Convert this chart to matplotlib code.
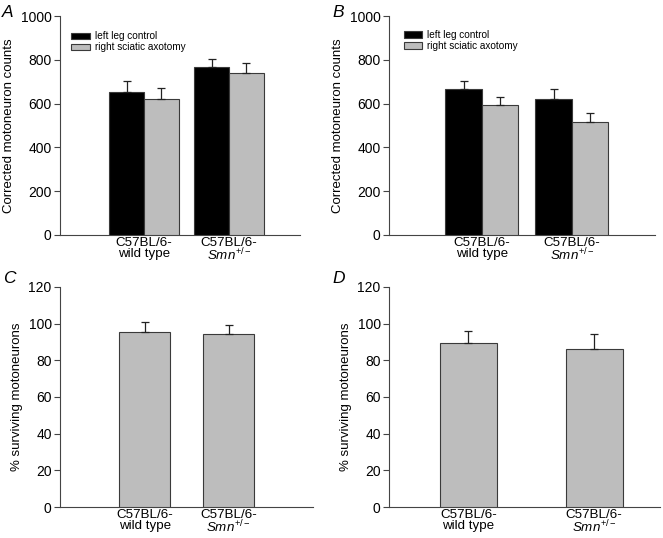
import numpy as np
import matplotlib.pyplot as plt

plt.rcParams['font.family'] = ['Liberation Sans', 'DejaVu Sans']
plt.rcParams['mathtext.fontset'] = 'custom'
plt.rcParams['mathtext.rm'] = 'Liberation Sans'
plt.rcParams['mathtext.it'] = 'Liberation Sans:italic'

# data
groups = ['C57BL/6-\nwild type', 'C57BL/6-\n$Smn^{+/-}$']
series = ['left leg control', 'right sciatic axotomy']

a_ctrl = [655, 765]
a_ctrl_err = [48, 40]
a_axo = [621, 742]
a_axo_err = [49, 43]

b_ctrl = [665, 620]
b_ctrl_err = [40, 48]
b_axo = [592, 517]
b_axo_err = [40, 39]

c_surv = [95.2, 94.5]
c_surv_err = [5.8, 4.5]
d_surv = [89.3, 86.0]
d_surv_err = [6.7, 8.3]

black = '#000000'
gray = '#bdbdbd'
edge = '#3a3a3a'

fig = plt.figure(figsize=(6.63, 5.38), dpi=100)


def style(ax, ylim, yticks):
    for s in ['top', 'right']:
        ax.spines[s].set_visible(False)
    ax.spines['left'].set_color('#444444')
    ax.spines['bottom'].set_color('#444444')
    ax.set_ylim(*ylim)
    ax.set_yticks(yticks)
    ax.tick_params(axis='y', labelsize=10, length=4, color='#444444', pad=2)
    ax.tick_params(axis='x', length=0, labelsize=9.6, pad=1.5)
    ax.set_xticks([0, 1])
    ax.set_xticklabels(groups, linespacing=0.86)


def pair_panel(rect, xlim, w, ctrl, ctrl_err, axo, axo_err, letter, lx, leg_anchor):
    ax = fig.add_axes(rect)
    x = np.arange(2)
    ax.bar(x - w / 2, ctrl, w, color=black, edgecolor=edge, linewidth=0.8,
           yerr=[np.zeros(2), ctrl_err], capsize=3,
           error_kw=dict(elinewidth=0.9, capthick=0.9, ecolor='#222222'),
           label=series[0], zorder=3)
    ax.bar(x + w / 2, axo, w, color=gray, edgecolor=edge, linewidth=0.8,
           yerr=[np.zeros(2), axo_err], capsize=3,
           error_kw=dict(elinewidth=0.9, capthick=0.9, ecolor='#222222'),
           label=series[1], zorder=3)
    ax.set_xlim(*xlim)
    style(ax, (0, 1000), [0, 200, 400, 600, 800, 1000])
    ax.set_ylabel('Corrected motoneuron counts', fontsize=9.5, labelpad=4)
    ax.legend(loc='upper left', bbox_to_anchor=leg_anchor, frameon=False,
              fontsize=7.2, handlelength=1.85, handleheight=0.65,
              handletextpad=0.5, labelspacing=0.1, borderaxespad=0,
              borderpad=0)
    fig.text(lx, 0.968, letter, fontsize=12.5, style='italic',
             va='baseline', ha='left')
    return ax


def single_panel(rect, xlim, w, vals, errs, letter, lx):
    ax = fig.add_axes(rect)
    x = np.arange(2)
    ax.bar(x, vals, w, color=gray, edgecolor=edge, linewidth=0.8,
           yerr=[np.zeros(2), errs], capsize=3,
           error_kw=dict(elinewidth=0.9, capthick=0.9, ecolor='#222222'),
           zorder=3)
    ax.set_xlim(*xlim)
    style(ax, (0, 120), [0, 20, 40, 60, 80, 100, 120])
    ax.set_ylabel('% surviving motoneurons', fontsize=9.5, labelpad=4)
    fig.text(lx, 0.474, letter, fontsize=12.5, style='italic',
             va='baseline', ha='left')
    return ax


pair_panel([0.0905, 0.5632, 0.362, 0.407], (-0.988, 1.835), 0.41,
           a_ctrl, a_ctrl_err, a_axo, a_axo_err, 'A', 0.003, (0.046, 0.93))
pair_panel([0.5867, 0.5632, 0.401, 0.407], (-1.033, 1.922), 0.405,
           b_ctrl, b_ctrl_err, b_axo, b_axo_err, 'B', 0.502, (0.056, 0.935))
single_panel([0.0905, 0.0576, 0.382, 0.409], (-1.006, 2.006), 0.607,
             c_surv, c_surv_err, 'C', 0.004)
single_panel([0.5867, 0.0576, 0.409, 0.409], (-0.633, 1.526), 0.454,
             d_surv, d_surv_err, 'D', 0.502)

fig.savefig('out.png', dpi=100)
plt.close()
